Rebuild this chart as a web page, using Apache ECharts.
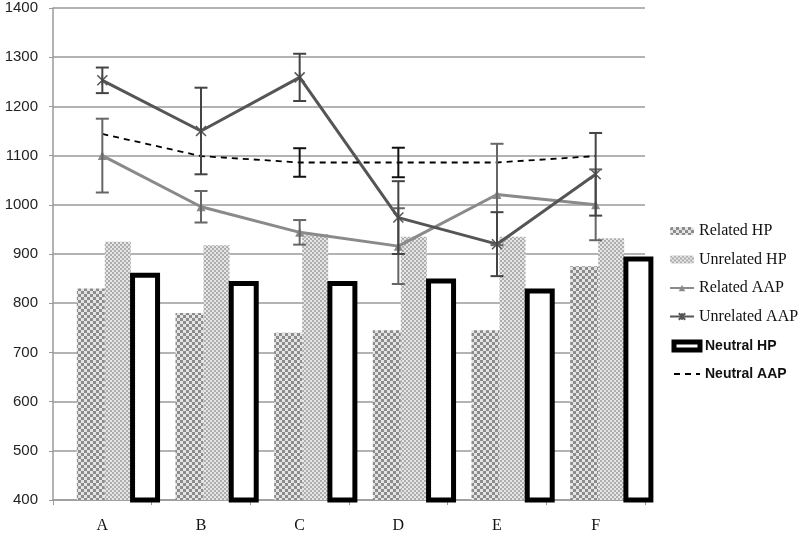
<!DOCTYPE html>
<html>
<head>
<meta charset="utf-8">
<script src="https://cdn.jsdelivr.net/npm/echarts@6/dist/echarts.min.js"></script>
<style>
html,body{margin:0;padding:0;background:#fff;}
#chart{width:800px;height:535px;}
</style>
</head>
<body>
<div id="chart"></div>
<script>
// ---- data ----
const categories = ['A', 'B', 'C', 'D', 'E', 'F'];
const relatedHP   = [830, 780, 740, 745, 745, 875];
const unrelatedHP = [925, 918, 940, 935, 935, 932];
const neutralHP   = [857, 840, 840, 845, 825, 890];
const relatedAAP   = [1100, 996, 944, 916, 1021, 1000];
const unrelatedAAP = [1253, 1150, 1259, 974, 920, 1062];
const neutralAAP   = [1144, 1099, 1086, 1086, 1086, 1099];
const relatedAAPErr   = [75, 32, 25, 77, 103, 72];
const unrelatedAAPErr = [26, 88, 48, 74, 65, 84];
const neutralAAPErr   = [null, null, 29, 30, null, null];
const yTicks = { min: 400, max: 1400, step: 100 };

// ---- patterns ----
function checker(size, c1, c2) {
  const cv = document.createElement('canvas');
  cv.width = cv.height = size * 2;
  const ctx = cv.getContext('2d');
  ctx.fillStyle = c2; ctx.fillRect(0, 0, size * 2, size * 2);
  ctx.fillStyle = c1; ctx.fillRect(0, 0, size, size); ctx.fillRect(size, size, size, size);
  return cv;
}
const relPattern = { image: checker(3, '#8c8c8c', '#e4e4e4'), repeat: 'repeat' };
const unrelPattern = { image: checker(2, '#adadad', '#e6e6e6'), repeat: 'repeat' };

function errData(vals, errs) {
  const out = [];
  vals.forEach((v, i) => { if (errs[i] != null) out.push([i, v - errs[i], v + errs[i]]); });
  return out;
}
function errSeries(name, vals, errs, color) {
  return {
    type: 'custom', name: name, silent: true, z: 5,
    data: errData(vals, errs),
    renderItem: function (params, api) {
      const x = api.value(0);
      const lo = api.coord([x, api.value(1)]);
      const hi = api.coord([x, api.value(2)]);
      const w = 6.5;
      const st = { stroke: color, lineWidth: 2 };
      return { type: 'group', children: [
        { type: 'line', shape: { x1: lo[0], y1: lo[1], x2: hi[0], y2: hi[1] }, style: st },
        { type: 'line', shape: { x1: hi[0] - w, y1: hi[1], x2: hi[0] + w, y2: hi[1] }, style: st },
        { type: 'line', shape: { x1: lo[0] - w, y1: lo[1], x2: lo[0] + w, y2: lo[1] }, style: st }
      ]};
    }
  };
}

const serifText = { fontFamily: 'Liberation Serif', fontSize: 16, color: '#111' };
const boldText = { fontFamily: 'Liberation Sans', fontSize: 14, fontWeight: 'bold', color: '#111' };

const chart = echarts.init(document.getElementById('chart'), null, { renderer: 'canvas' });
chart.setOption({
  animation: false,
  backgroundColor: '#fff',
  grid: { left: 53, right: 155, top: 8, bottom: 35 },
  legend: [
    {
      orient: 'vertical', left: 664, top: 218, itemWidth: 24, itemHeight: 8, itemGap: 12.5,
      textStyle: serifText, selectedMode: false,
      data: ['Related HP', 'Unrelated HP', 'Related AAP', 'Unrelated AAP']
    },
    {
      orient: 'vertical', left: 666.5, top: 334, itemWidth: 26, itemHeight: 8, itemGap: 14,
      textStyle: boldText, selectedMode: false,
      data: [
        { name: 'Neutral HP', icon: 'rect', itemStyle: { color: '#fff', borderColor: '#000', borderWidth: 5 } },
        { name: 'Neutral AAP', itemStyle: { color: 'transparent', borderWidth: 0, opacity: 0 } }
      ]
    }
  ],
  xAxis: {
    type: 'category', data: categories,
    axisLine: { lineStyle: { color: '#9a9a9a', width: 1.5 } },
    axisTick: { show: true, length: 5, lineStyle: { color: '#9a9a9a' } },
    axisLabel: { fontFamily: 'Liberation Serif', fontSize: 16, color: '#111', margin: 18 },
    splitLine: { show: false }
  },
  yAxis: {
    type: 'value', min: yTicks.min, max: yTicks.max, interval: yTicks.step,
    axisLine: { show: true, lineStyle: { color: '#9a9a9a', width: 1.5 } },
    axisTick: { show: true, length: 4, lineStyle: { color: '#9a9a9a' } },
    axisLabel: { fontFamily: 'Liberation Sans', fontSize: 15, color: '#222', margin: 15,
      formatter: v => String(v) },
    splitLine: { lineStyle: { color: '#9a9a9a', width: 1.5 } }
  },
  series: [
    { type: 'bar', name: 'spacerA', data: [], barWidth: 3, barGap: '0%', silent: true },
    { type: 'bar', name: 'Related HP', data: relatedHP, barWidth: 28, barGap: '0%', silent: true,
      itemStyle: { color: relPattern } },
    { type: 'bar', name: 'Unrelated HP', data: unrelatedHP, barWidth: 26, barGap: '0%', silent: true,
      itemStyle: { color: unrelPattern } },
    {
      type: 'custom', name: 'Neutral HP', silent: true, z: 3,
      itemStyle: { color: '#fff', borderColor: '#000', borderWidth: 5 },
      data: neutralHP.map((v, i) => [i, v]),
      renderItem: function (params, api) {
        const top = api.coord([api.value(0), api.value(1)]);
        const base = api.coord([api.value(0), yTicks.min]);
        const band = api.size([1, 0])[0];
        const w = 25;
        const cx = top[0] + band * 0.433;
        return {
          type: 'rect',
          shape: { x: cx - w / 2, y: top[1], width: w, height: base[1] - top[1] },
          style: { fill: '#fff', stroke: '#000', lineWidth: 5 }
        };
      }
    },
    { type: 'line', name: 'Related AAP', data: relatedAAP, z: 4, silent: true,
      symbol: 'triangle', symbolSize: 9, showSymbol: true,
      lineStyle: { color: '#8a8a8a', width: 3 }, itemStyle: { color: '#8a8a8a' } },
    { type: 'line', name: 'Unrelated AAP', data: unrelatedAAP, z: 4, silent: true,
      symbol: 'path://M0,0L10,10M10,0L0,10M5,0L5,10', symbolSize: 10, showSymbol: true,
      lineStyle: { color: '#555', width: 3 },
      itemStyle: { color: '#555', borderColor: '#555', borderWidth: 1.5 } },
    { type: 'line', name: 'Neutral AAP', data: neutralAAP, z: 4, silent: true,
      symbol: 'none',
      lineStyle: { color: '#000', width: 1.8, type: [6, 5] }, itemStyle: { color: '#000' } },
    errSeries('errRel', relatedAAP, relatedAAPErr, '#666'),
    errSeries('errUnrel', unrelatedAAP, unrelatedAAPErr, '#444'),
    errSeries('errNeut', neutralAAP, neutralAAPErr, '#111')
  ]
});
</script>
</body>
</html>
